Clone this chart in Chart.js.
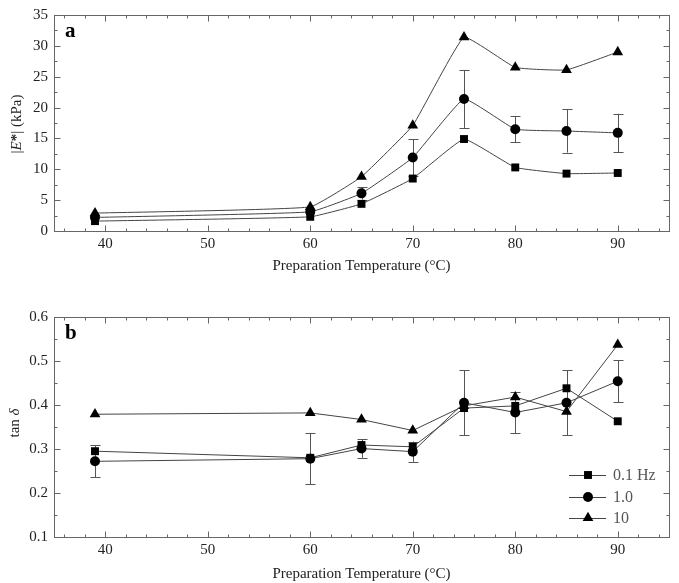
<!DOCTYPE html>
<html>
<head>
<meta charset="utf-8">
<script src="https://cdn.jsdelivr.net/npm/chart.js@4.4.1/dist/chart.umd.min.js"></script>
<style>
  html, body { margin: 0; padding: 0; background: #ffffff; }
  #wrap { position: relative; width: 679px; height: 583px; background: #fff; }
  canvas { position: absolute; left: 0; }
  #c1 { top: 0; }
  #c2 { top: 290px; }
</style>
</head>
<body>
<div id="wrap">
  <canvas id="c1" width="679" height="290"></canvas>
  <canvas id="c2" width="679" height="293"></canvas>
</div>
<script>
// ---- data ----
const temperatures = [39, 60, 65, 70, 75, 80, 85, 90];
const seriesLabels = ['0.1 Hz', '1.0', '10'];

const modulus01 = [1.6, 2.3, 4.4, 8.5, 14.9, 10.3, 9.3, 9.4];
const modulus1  = [2.2, 3.1, 6.1, 11.9, 21.4, 16.5, 16.2, 15.9];
const modulus1Err = [0, 0, 1.0, 3.0, 4.7, 2.1, 3.5, 3.1];
const modulus10 = [2.9, 3.9, 8.8, 17.1, 31.4, 26.5, 26.1, 29.0];

const tan01 = [0.295, 0.280, 0.309, 0.305, 0.393, 0.398, 0.438, 0.363];
const tan1  = [0.272, 0.278, 0.301, 0.294, 0.405, 0.383, 0.405, 0.454];
const tan1Err = [0.036, 0.058, 0.021, 0.023, 0.074, 0.047, 0.074, 0.048];
const tan10 = [0.379, 0.382, 0.367, 0.342, 0.398, 0.418, 0.385, 0.537];

const xTickLabels = [40, 50, 60, 70, 80, 90];
const xMinorTicks = [36,38,42,44,46,48,52,54,56,58,62,64,66,68,72,74,76,78,82,84,86,88,92,94];
const yTicksTop = [0, 5, 10, 15, 20, 25, 30, 35];
const yMinorTop = [2.5, 7.5, 12.5, 17.5, 22.5, 27.5, 32.5];
const yTicksBottom = [0.1, 0.2, 0.3, 0.4, 0.5, 0.6];
const yMinorBottom = [0.15, 0.25, 0.35, 0.45, 0.55];

// ---- styling ----
const SERIF = "'Liberation Serif', 'Times New Roman', serif";
const TXT = '#222';
const FRAME = '#666';
const LINE = '#444';
const pointStyles = ['rect', 'circle', 'triangle'];
const pointRadii = [5.6, 5, 6.2];

function pts(ys) { return temperatures.map((t, i) => ({ x: t, y: ys[i] })); }

function makeDatasets(arrs, tension) {
  return arrs.map((a, i) => ({
    label: seriesLabels[i],
    data: pts(a),
    borderColor: LINE,
    borderWidth: 1,
    backgroundColor: '#000',
    pointBackgroundColor: '#000',
    pointBorderColor: '#000',
    pointBorderWidth: 0,
    pointStyle: pointStyles[i],
    pointRadius: pointRadii[i],
    tension: tension,
    fill: false
  }));
}

function framePlugin(cfg) {
  return {
    id: 'frame_' + cfg.id,
    beforeDatasetsDraw(chart) {
      const ctx = chart.ctx;
      const x = chart.scales.x, y = chart.scales.y;
      ctx.save();
      ctx.strokeStyle = '#555';
      ctx.lineWidth = 1;
      cfg.err.forEach(e => {
        temperatures.forEach((t, i) => {
          const d = e.err[i];
          if (!d) return;
          const px = Math.round(x.getPixelForValue(t)) + 0.5;
          const top = y.getPixelForValue(e.vals[i] + d);
          const bot = y.getPixelForValue(e.vals[i] - d);
          ctx.beginPath();
          ctx.moveTo(px, top); ctx.lineTo(px, bot);
          ctx.moveTo(px - 5, Math.round(top) + 0.5); ctx.lineTo(px + 5, Math.round(top) + 0.5);
          ctx.moveTo(px - 5, Math.round(bot) + 0.5); ctx.lineTo(px + 5, Math.round(bot) + 0.5);
          ctx.stroke();
        });
      });
      ctx.restore();
    },
    afterDraw(chart) {
      const ctx = chart.ctx;
      const a = chart.chartArea;
      const x = chart.scales.x, y = chart.scales.y;
      ctx.save();
      ctx.strokeStyle = FRAME;
      ctx.lineWidth = 1;
      const L = Math.round(a.left) + 0.5, R = Math.round(a.right) + 0.5;
      const T = Math.round(a.top) + 0.5, B = Math.round(a.bottom) + 0.5;
      ctx.strokeRect(L, T, R - L, B - T);
      ctx.beginPath();
      const xt = (v, len) => {
        const p = Math.round(x.getPixelForValue(v)) + 0.5;
        ctx.moveTo(p, B); ctx.lineTo(p, B - len);
        ctx.moveTo(p, T); ctx.lineTo(p, T + len);
      };
      const yt = (v, len) => {
        const p = Math.round(y.getPixelForValue(v)) + 0.5;
        ctx.moveTo(L, p); ctx.lineTo(L + len, p);
        ctx.moveTo(R, p); ctx.lineTo(R - len, p);
      };
      xTickLabels.forEach(v => xt(v, 6));
      xMinorTicks.forEach(v => xt(v, 3));
      cfg.yMajor.forEach(v => yt(v, 6));
      cfg.yMinor.forEach(v => yt(v, 3));
      ctx.stroke();

      ctx.fillStyle = '#000';
      ctx.font = "bold 21px " + SERIF;
      ctx.textBaseline = 'alphabetic';
      ctx.textAlign = 'left';
      ctx.fillText(cfg.letter, a.left + 11, a.top + 22);

      ctx.save();
      ctx.translate(cfg.titleX, cfg.titleY);
      ctx.rotate(-Math.PI / 2);
      ctx.fillStyle = TXT;
      ctx.textBaseline = 'middle';
      let total = 0;
      cfg.titleParts.forEach(p => { ctx.font = p.f; total += ctx.measureText(p.t).width; });
      let cx = -total / 2;
      cfg.titleParts.forEach(p => {
        ctx.font = p.f;
        ctx.fillText(p.t, cx, 0);
        cx += ctx.measureText(p.t).width;
      });
      ctx.restore();

      if (cfg.legend) {
        const lx0 = 569, lx1 = 606, mx = 588, tx = 613;
        const ys = [475, 497, 518].map(v => v - 290);
        ctx.font = "16px " + SERIF;
        ctx.textBaseline = 'middle';
        chart.data.datasets.forEach((ds, i) => {
          ctx.strokeStyle = LINE;
          ctx.lineWidth = 1;
          ctx.beginPath();
          ctx.moveTo(lx0, ys[i] + 0.5); ctx.lineTo(lx1, ys[i] + 0.5);
          ctx.stroke();
          ctx.fillStyle = '#000';
          ctx.beginPath();
          Chart.helpers.drawPoint(ctx, { pointStyle: ds.pointStyle, rotation: 0, borderWidth: 0, radius: ds.pointRadius }, mx, ys[i]);
          ctx.fillStyle = '#555';
          ctx.fillText(ds.label, tx, ys[i] + 1);
        });
      }
      ctx.restore();
    }
  };
}

function makeOptions(yMin, yMax, yTicks, yFmt, padTop, xAxisHeight, titlePadBottom) {
  return {
    responsive: false,
    animation: false,
    events: [],
    layout: { padding: { left: 0, right: 10, top: padTop, bottom: 0 } },
    plugins: { legend: { display: false }, tooltip: { enabled: false } },
    scales: {
      x: {
        type: 'linear', min: 35, max: 95,
        afterBuildTicks: s => { s.ticks = xTickLabels.map(v => ({ value: v })); },
        afterFit: s => { s.height = xAxisHeight; },
        grid: { display: false, drawTicks: false },
        border: { display: false },
        ticks: { font: { family: SERIF, size: 15 }, color: TXT, padding: 4, maxRotation: 0, autoSkip: false },
        title: { display: true, text: 'Preparation Temperature (°C)', font: { family: SERIF, size: 15 }, color: TXT,
                 padding: { top: 0, bottom: titlePadBottom } }
      },
      y: {
        type: 'linear', min: yMin, max: yMax,
        afterBuildTicks: s => { s.ticks = yTicks.map(v => ({ value: v })); },
        afterFit: s => { s.width = 54; },
        grid: { display: false, drawTicks: false },
        border: { display: false },
        ticks: { font: { family: SERIF, size: 15 }, color: TXT, padding: 6, callback: yFmt, autoSkip: false }
      }
    }
  };
}

new Chart(document.getElementById('c1'), {
  type: 'line',
  data: { datasets: makeDatasets([modulus01, modulus1, modulus10], 0.1) },
  options: makeOptions(0, 35, yTicksTop, v => String(v), 11, 59, 15),
  plugins: [framePlugin({
    id: 'a', letter: 'a', yMajor: yTicksTop, yMinor: yMinorTop,
    err: [{ vals: modulus1, err: modulus1Err }],
    titleX: 17, titleY: 124,
    titleParts: [
      { t: '|', f: "15px " + SERIF },
      { t: 'E', f: "italic 15px " + SERIF },
      { t: '*', f: "bold 15px " + SERIF },
      { t: '| (kPa)', f: "15px " + SERIF }
    ],
    legend: false
  })]
});

new Chart(document.getElementById('c2'), {
  type: 'line',
  data: { datasets: makeDatasets([tan01, tan1, tan10], 0) },
  options: makeOptions(0.1, 0.6, yTicksBottom, v => Number(v).toFixed(1), 27, 46, 0),
  plugins: [framePlugin({
    id: 'b', letter: 'b', yMajor: yTicksBottom, yMinor: yMinorBottom,
    err: [{ vals: tan1, err: tan1Err }],
    titleX: 15, titleY: 133,
    titleParts: [
      { t: 'tan ', f: "15px " + SERIF },
      { t: 'δ', f: "italic 15px " + SERIF }
    ],
    legend: true
  })]
});
</script>
</body>
</html>
